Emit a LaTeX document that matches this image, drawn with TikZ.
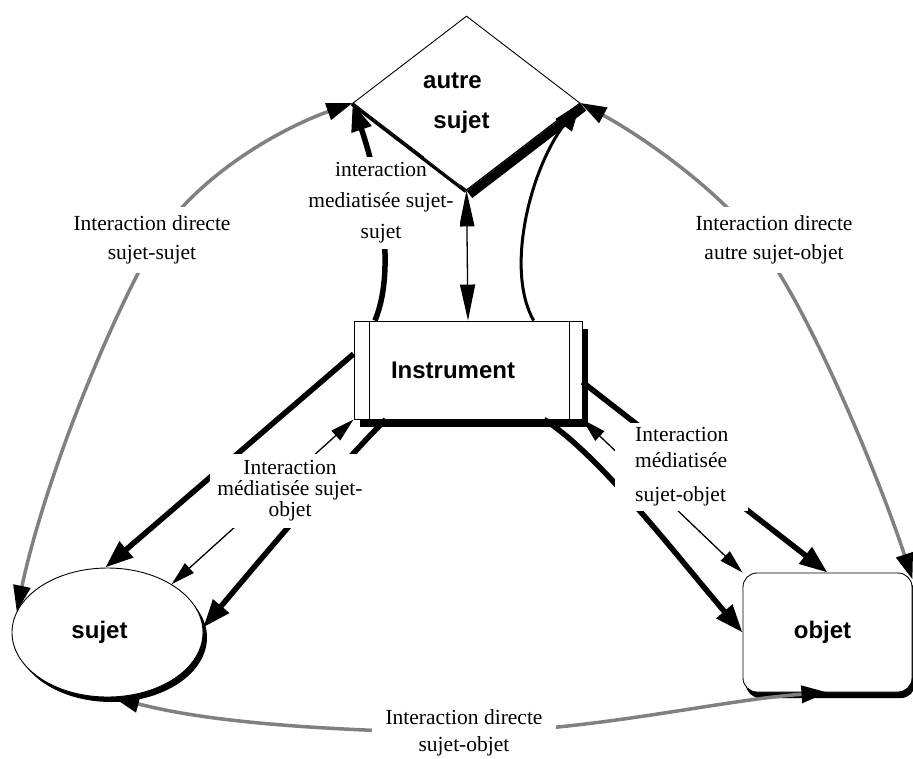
\documentclass[tikz,border=0pt]{standalone}
\usepackage{fontspec}
\setmainfont{Liberation Serif}
\newfontfamily\hsans{Liberation Sans}
\usetikzlibrary{arrows.meta,shapes.geometric,shadows}
\definecolor{lg}{RGB}{128,128,128}
\tikzset{
  gtip/.tip={Triangle[length=26pt,width=17pt,color=black]},
  ktip/.tip={Triangle[length=28pt,width=20pt]},
  ttip/.tip={Triangle[length=24pt,width=13pt]},
  vtip/.tip={Triangle[length=36pt,width=15pt]},
  titletext/.style={font=\hsans\bfseries\fontsize{24}{40}\selectfont, align=center},
  box/.style={draw, fill=white, line width=0.9pt, inner sep=0pt},
  blackshadow/.style 2 args={drop shadow={shadow xshift=#1, shadow yshift=#2, fill=black, opacity=1}},
  lbl/.style={fill=white, font=\fontsize{21.5}{29}\selectfont, align=center, inner sep=9pt},
  gline/.style={draw=lg, line width=3.5pt},
  kline/.style={line width=5.5pt},
  mline/.style={line width=3pt},
  tline/.style={line width=1.3pt},
  edge/.style={line width=0.9pt},
}
\begin{document}
\begin{tikzpicture}[x=1pt,y=-1pt]
\useasboundingbox (0,0) rectangle (913,758);

% nodes
\node[box, diamond, aspect=1.3, minimum width=227pt, minimum height=174pt, titletext] (A) at (466.5,103) {autre\hspace*{28pt}\\sujet\hspace*{10pt}};

\node[box, blackshadow={6pt}{-8pt}, minimum width=228pt, minimum height=98pt, titletext] (I) at (468,370) {Instrument\hspace*{30pt}};
\draw[edge] ([xshift=16pt]I.north west) -- ([xshift=16pt]I.south west);
\draw[edge] ([xshift=-13pt]I.north east) -- ([xshift=-13pt]I.south east);

\node[box, ellipse, blackshadow={4pt}{-5pt}, minimum width=191pt, minimum height=129pt, titletext] (S) at (107.5,632.5) {sujet\hspace*{16pt}};

\node[box, rounded corners=14pt, blackshadow={3pt}{-6pt}, minimum width=169pt, minimum height=119pt, titletext] (O) at (827.5,632.5) {objet\hspace*{10pt}};

% direct interactions (gray)
\draw[gline, gtip-gtip] (S.167) .. controls (40,500) and (95,350) .. (153,245)
   .. controls (200,170) and (290,125) .. (A.west);
\draw[gline, gtip-gtip] (A.east) .. controls (640,135) and (720,190) .. (760,245)
   .. controls (810,310) and (880,480) .. (O.32);
\draw[gline, gtip-gtip] (S.275) .. controls (200,720) and (300,730) .. (465,733)
   .. controls (600,730) and (720,700) .. (O.south);

% mediated sujet-sujet
\draw[kline, -ktip] (I.152) .. controls (400,260) and (372,160) .. (A.west);
\draw[tline, vtip-vtip] (A.south) -- (I.north);
\draw[mline, -ktip] (I.37) .. controls (505,270) and (530,170) .. (A.east);

% mediated sujet-objet (left)
\draw[kline, -ktip] (I.172) -- (S.92);
\draw[tline, ttip-ttip] (I.south west) -- (S.37);
\draw[kline, -ktip] (I.211) .. controls (340,465) and (260,560) .. (S.3);

% mediated sujet-objet (right)
\draw[kline, -ktip] (I.327) .. controls (600,455) and (680,560) .. (O.west);
\draw[tline, ttip-ttip] (I.south east) -- (O.north west);
\draw[kline, -ktip] (I.-6) -- (O.north);

% labels
\node[lbl] (L1) at (152,240) {Interaction directe\\sujet-sujet};
\node[lbl] (L2) at (774,240) {Interaction directe\\autre sujet-objet};
\node[lbl, font=\fontsize{21.5}{31}\selectfont, inner sep=6pt] (L3) at (381,203) {interaction\\mediatisée sujet-\\sujet};
\node[lbl, font=\fontsize{21.5}{21}\selectfont, inner sep=7pt] (L4) at (290,491) {Interaction\\médiatisée sujet-\\objet};
\node[lbl, font=\fontsize{21.5}{26}\selectfont, align=left, anchor=west, inner xsep=20pt, inner ysep=5pt] (L5) at (615,467) {Interaction\\médiatisée\\[8pt]sujet-objet};
\node[lbl, font=\fontsize{21.5}{27}\selectfont, inner xsep=14pt, inner ysep=5pt] (L6) at (464,733) {Interaction directe\\sujet-objet};

% lower edges of the diamond, with its shadow, over the label
\draw[edge] (A.west) -- (A.south) -- (A.east);
\draw[line width=2.5pt] ([shift={(-1,1.3)}]A.west) -- ([shift={(-1,1.3)}]A.south);
\draw[line width=9pt] ([shift={(3,4)}]A.south) -- ([shift={(3,4)}]A.east);
\end{tikzpicture}
\end{document}
